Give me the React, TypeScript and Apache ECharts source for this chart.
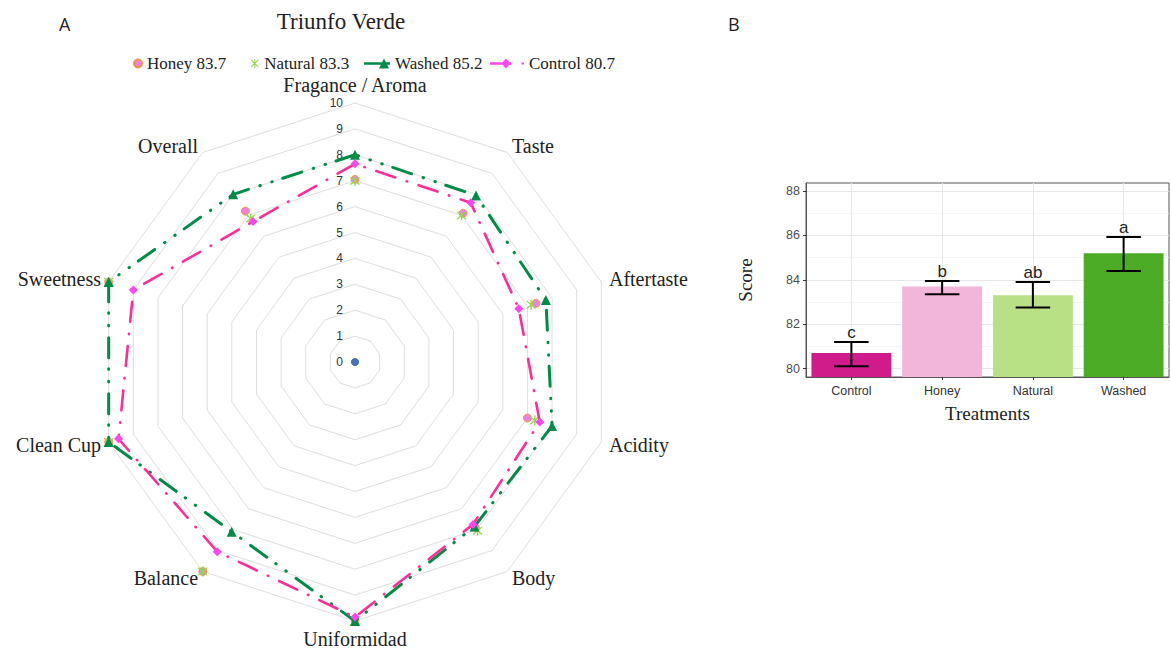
import React, { useEffect, useRef } from 'react';
import * as echarts from 'echarts';

// Cupping attributes, listed clockwise from the top of the radar
const attributes = [
  'Fragance / Aroma', 'Taste', 'Aftertaste', 'Acidity', 'Body',
  'Uniformidad', 'Balance', 'Clean Cup', 'Sweetness', 'Overall',
];
const honeyScores = [7.05, 7.1, 7.35, 7.0, 7.9, 10, 10, 10, 10, 7.2];
const naturalScores = [7.0, 7.0, 7.15, 7.3, 8.05, 10, 10, 10, 10, 6.85];
const washedScores = [8.0, 7.95, 7.75, 8.0, 7.85, 10, 8.1, 10, 10, 8.0];
const controlScores = [7.65, 7.6, 6.65, 7.5, 7.75, 9.85, 9.05, 9.6, 9.0, 6.7];
const originScores = [0, 0, 0, 0, 0, 0, 0, 0, 0, 0];

// Total scores per treatment (panel B)
const treatments = ['Control', 'Honey', 'Natural', 'Washed'];
const meanScores = [80.7, 83.7, 83.3, 85.2];
const lowerBounds = [80.1, 83.35, 82.75, 84.4];
const upperBounds = [81.2, 83.95, 83.9, 85.93];
const groupLetters = ['c', 'b', 'ab', 'a'];
const scoreTicks = [80, 82, 84, 86, 88];
const minorScoreTicks = [81, 83, 85, 87];
const barColors = ['#d01c8b', '#f1b6da', '#b8e186', '#4dac26'];

const SERIF = '"Liberation Serif", "Times New Roman", serif';
const SANS = '"Liberation Sans", Arial, sans-serif';

const WASHED_GREEN = '#008b47';
const CONTROL_LINE = '#ff2d95';
const CONTROL_MARK = '#ff45f0';
const HONEY_FILL = '#f27fdc';
const HONEY_EDGE = '#f0954a';
const NATURAL_GREEN = '#95d64a';

const asteriskPath =
  'path://M4.4,0 H5.6 V10 H4.4 Z M0.8,1.6 L1.6,0.8 L9.2,8.4 L8.4,9.2 Z M8.4,0.8 L9.2,1.6 L1.6,9.2 L0.8,8.4 Z';
const washedIcon = 'path://M0,3.8 H26 V6.2 H0 Z M20,0 L25,10 L15,10 Z';
const controlIcon =
  'path://M0,3.8 H21 V6.2 H0 Z M16,0 L20.5,5 L16,10 L11.5,5 Z M31.5,3.9 H34 V6.1 H31.5 Z';

const labelOf = (t: string) => `${t} ${meanScores[treatments.indexOf(t)]}`;

// ECharts lays radar indicators out counter-clockwise
const radarOrder = [0, 9, 8, 7, 6, 5, 4, 3, 2, 1];
const reorder = (arr: number[]) => radarOrder.map((i) => arr[i]);

export default function App() {
  const ref = useRef<HTMLDivElement>(null);

  useEffect(() => {
    if (!ref.current) return;
    const chart = echarts.init(ref.current, null, { renderer: 'svg' });

    const legendText = { fontFamily: SERIF, fontSize: 17, color: '#222' };
    const legendBase = { top: 55, padding: 0, itemGap: 0, textStyle: legendText, selectedMode: false };

    const option: any = {
      animation: false,
      backgroundColor: '#ffffff',
      title: [
        {
          text: 'Triunfo Verde', left: 341, top: 10, textAlign: 'center', padding: 0,
          textStyle: { fontFamily: SERIF, fontSize: 23, fontWeight: 'normal', color: '#222' },
        },
        {
          text: 'A', left: 59, top: 15, padding: 0,
          textStyle: { fontFamily: '"Open Sans", sans-serif', fontSize: 18, fontWeight: 'normal', color: '#222' },
        },
        {
          text: 'B', left: 728, top: 15, padding: 0,
          textStyle: { fontFamily: '"Open Sans", sans-serif', fontSize: 18, fontWeight: 'normal', color: '#222' },
        },
      ],
      legend: [
        { ...legendBase, data: [labelOf('Honey')], left: 133, icon: 'circle', itemWidth: 8, itemHeight: 8 },
        { ...legendBase, data: [labelOf('Natural')], left: 251, icon: asteriskPath, itemWidth: 9, itemHeight: 9 },
        { ...legendBase, data: [labelOf('Washed')], left: 364, icon: washedIcon, itemWidth: 26, itemHeight: 10 },
        { ...legendBase, data: [labelOf('Control')], left: 490, icon: controlIcon, itemWidth: 34, itemHeight: 10 },
      ],
      radar: {
        center: [355, 362],
        radius: 259,
        startAngle: 90,
        splitNumber: 10,
        shape: 'polygon',
        nameGap: 8,
        indicator: radarOrder.map((i, k) => ({
          name: attributes[i],
          min: 0,
          max: 10,
          ...(k === 0 ? {} : { axisLabel: { show: false } }),
        })),
        axisName: { color: '#222', fontFamily: SERIF, fontSize: 20 },
        splitLine: { lineStyle: { color: '#dedede', width: 1 } },
        splitArea: { show: false },
        axisLine: { show: false },
        axisTick: { show: false },
        axisLabel: { show: true, color: '#333', fontFamily: SANS, fontSize: 12, margin: 12 },
      },
      grid: {
        left: 806, right: 2, top: 183, bottom: 274,
        show: true, borderColor: '#555', borderWidth: 1, backgroundColor: 'transparent',
      },
      xAxis: {
        type: 'category',
        data: treatments,
        z: 3,
        axisLine: { show: true, lineStyle: { color: '#555', width: 1 } },
        axisTick: { show: true, alignWithLabel: true, length: 3, lineStyle: { color: '#333' } },
        axisLabel: { color: '#333', fontFamily: SANS, fontSize: 12.5, margin: 7 },
        splitLine: { show: false },
        name: 'Treatments',
        nameLocation: 'middle',
        nameGap: 27,
        nameTextStyle: { fontFamily: SERIF, fontSize: 19, color: '#222' },
      },
      yAxis: {
        type: 'value',
        min: 79.62,
        max: 88.36,
        z: 3,
        axisLine: { show: true, lineStyle: { color: '#555', width: 1 } },
        axisTick: { show: true, length: 3, customValues: scoreTicks, lineStyle: { color: '#333' } },
        axisLabel: { color: '#4d4d4d', fontFamily: SANS, fontSize: 12.5, margin: 6, customValues: scoreTicks },
        splitLine: { show: false },
        name: 'Score',
        nameLocation: 'middle',
        nameGap: 51,
        nameRotate: 90,
        nameTextStyle: { fontFamily: SERIF, fontSize: 19, color: '#222' },
      },
      series: [
        {
          type: 'radar',
          z: 2,
          symbol: 'circle',
          symbolSize: 8,
          lineStyle: { opacity: 0 },
          itemStyle: { color: HONEY_FILL, borderColor: HONEY_EDGE, borderWidth: 0.9 },
          data: [{ name: labelOf('Honey'), value: reorder(honeyScores) }],
        },
        {
          type: 'radar',
          z: 2,
          symbol: asteriskPath,
          symbolSize: 10,
          lineStyle: { opacity: 0 },
          itemStyle: { color: NATURAL_GREEN },
          data: [{ name: labelOf('Natural'), value: reorder(naturalScores) }],
        },
        {
          type: 'radar',
          z: 3,
          symbol: 'triangle',
          symbolSize: 10,
          lineStyle: { color: WASHED_GREEN, width: 3, type: [20, 11, 0.5, 12, 0.5, 12], cap: 'round' },
          itemStyle: { color: WASHED_GREEN },
          data: [{ name: labelOf('Washed'), value: reorder(washedScores) }],
        },
        {
          type: 'radar',
          z: 4,
          symbol: 'diamond',
          symbolSize: 9,
          lineStyle: { color: CONTROL_LINE, width: 2.6, type: [20, 12, 0.5, 12], cap: 'round' },
          itemStyle: { color: CONTROL_MARK },
          data: [{ name: labelOf('Control'), value: reorder(controlScores) }],
        },
        {
          type: 'radar',
          z: 4,
          symbol: 'circle',
          symbolSize: 7,
          lineStyle: { opacity: 0 },
          itemStyle: { color: '#4472c4' },
          data: [{ name: 'Origin', value: originScores }],
        },
        // Panel grid lines, drawn beneath the bars
        {
          type: 'line',
          z: 1,
          data: [],
          silent: true,
          markLine: {
            silent: true,
            symbol: 'none',
            label: { show: false },
            z: 1,
            data: [
              ...minorScoreTicks.map((v) => ({ yAxis: v, lineStyle: { color: '#f2f2f2', width: 0.8, type: 'solid' } })),
              ...scoreTicks.map((v) => ({ yAxis: v, lineStyle: { color: '#e6e6e6', width: 1.2, type: 'solid' } })),
              ...treatments.map((t) => ({ xAxis: t, lineStyle: { color: '#e6e6e6', width: 1.2, type: 'solid' } })),
            ],
          },
        },
        {
          type: 'bar',
          z: 2,
          barWidth: '88%',
          data: meanScores.map((v, i) => ({ value: v, itemStyle: { color: barColors[i] } })),
        },
        {
          type: 'custom',
          z: 4,
          encode: { x: 0, y: [1, 2] },
          data: treatments.map((_, i) => [i, lowerBounds[i], upperBounds[i]]),
          renderItem: (params: any, api: any) => {
            const x = api.value(0);
            const lo = api.coord([x, api.value(1)]);
            const hi = api.coord([x, api.value(2)]);
            const half = api.size([1, 0])[0] * 0.19;
            const stroke = { stroke: '#000', lineWidth: 2 };
            return {
              type: 'group',
              children: [
                { type: 'line', shape: { x1: lo[0], y1: lo[1], x2: hi[0], y2: hi[1] }, style: stroke },
                { type: 'line', shape: { x1: lo[0] - half, y1: lo[1], x2: lo[0] + half, y2: lo[1] }, style: stroke },
                { type: 'line', shape: { x1: hi[0] - half, y1: hi[1], x2: hi[0] + half, y2: hi[1] }, style: stroke },
                {
                  type: 'text',
                  x: hi[0],
                  y: hi[1] - 1,
                  style: {
                    text: groupLetters[params.dataIndex],
                    fill: '#222',
                    fontFamily: SANS,
                    fontSize: 17,
                    align: 'center',
                    verticalAlign: 'bottom',
                  },
                },
              ],
            };
          },
        },
      ],
    };

    chart.setOption(option);
    return () => chart.dispose();
  }, []);

  return (
    <div
      ref={ref}
      style={{ position: 'fixed', left: 0, top: 0, width: 1171, height: 651, background: '#fff' }}
    />
  );
}
